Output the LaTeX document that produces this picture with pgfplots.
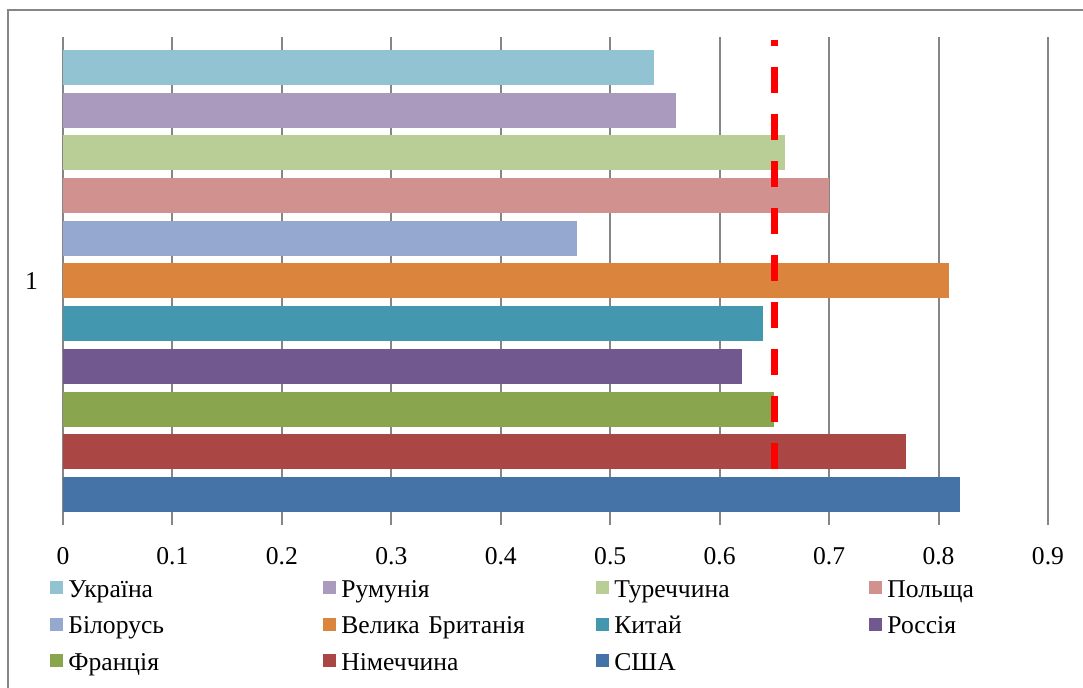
\documentclass[border=0pt]{standalone}
\usepackage{fontspec}
\setmainfont{Liberation Serif}
\usepackage{pgfplots}
\pgfplotsset{compat=1.18}

\definecolor{gridgray}{RGB}{134,134,134}
\definecolor{cUkr}{RGB}{146,195,211}
\definecolor{cRom}{RGB}{170,154,190}
\definecolor{cTur}{RGB}{185,205,150}
\definecolor{cPol}{RGB}{209,145,143}
\definecolor{cBel}{RGB}{149,169,208}
\definecolor{cGB}{RGB}{219,132,61}
\definecolor{cChn}{RGB}{67,152,175}
\definecolor{cRus}{RGB}{113,88,143}
\definecolor{cFra}{RGB}{137,165,78}
\definecolor{cGer}{RGB}{170,70,67}
\definecolor{cUSA}{RGB}{69,114,167}

\pgfplotsset{
  sq bar/.style={fill=#1, draw=none,
    legend image code/.code={\fill[#1] (0pt,-2pt) rectangle (6.5pt,4.5pt);}},
}

\begin{document}
\begin{tikzpicture}
\useasboundingbox (0,0) rectangle (541.5pt,-344pt);
\draw[gridgray, line width=1pt] (4pt,-360pt) -- (4pt,-5pt) -- (560pt,-5pt);
\begin{axis}[
  at={(31.5pt,-262.5pt)}, anchor=south west,
  scale only axis, width=492.5pt, height=244pt,
  xbar, bar width=0.0656,
  xmin=0, xmax=0.9, ymin=0.5429, ymax=1.4571,
  xtick={0,0.1,0.2,0.3,0.4,0.5,0.6,0.7,0.8,0.9},
  ytick={1},
  xmajorgrids, major grid style={gridgray, line width=1pt},
  axis line style={draw=none}, major tick length=0pt,
  tick label style={font=\fontsize{12.8}{15}\selectfont},
  /pgf/number format/assume math mode=true,
  xticklabel style={yshift=-7.5pt},
  yticklabel style={xshift=-9pt},
  legend columns=4, legend cell align=left,
  legend style={at={(-0.0132,-0.1066)}, anchor=north west, draw=none,
    inner sep=0pt, font=\fontsize{12.8}{15}\selectfont,
    /tikz/every odd column/.append style={column sep=1.5pt},
    /tikz/every even column/.append style={text width=126.5pt, column sep=0pt},
    nodes={inner xsep=1pt, inner ysep=0pt, text height=10pt, text depth=3pt},
    row sep=5.25pt},
]
\addplot[sq bar=cUkr, bar shift=0.4]  coordinates {(0.54,1)};
\addplot[sq bar=cRom, bar shift=0.32] coordinates {(0.56,1)};
\addplot[sq bar=cTur, bar shift=0.24] coordinates {(0.66,1)};
\addplot[sq bar=cPol, bar shift=0.16] coordinates {(0.70,1)};
\addplot[sq bar=cBel, bar shift=0.08] coordinates {(0.47,1)};
\addplot[sq bar=cGB,  bar shift=0]    coordinates {(0.81,1)};
\addplot[sq bar=cChn, bar shift=-0.08] coordinates {(0.64,1)};
\addplot[sq bar=cRus, bar shift=-0.16] coordinates {(0.62,1)};
\addplot[sq bar=cFra, bar shift=-0.24] coordinates {(0.65,1)};
\addplot[sq bar=cGer, bar shift=-0.32] coordinates {(0.77,1)};
\addplot[sq bar=cUSA, bar shift=-0.4] coordinates {(0.82,1)};
% threshold
\addplot[sharp plot, red, line width=3.5pt, dash pattern=on 13pt off 10.5pt, forget plot]
  coordinates {(0.65,0.6478) (0.65,1.4515)};
\legend{Україна, Румунія, Туреччина, Польща, Білорусь, Велика Британія, Китай, Россія, Франція, Німеччина, США}
\end{axis}
\end{tikzpicture}
\end{document}
